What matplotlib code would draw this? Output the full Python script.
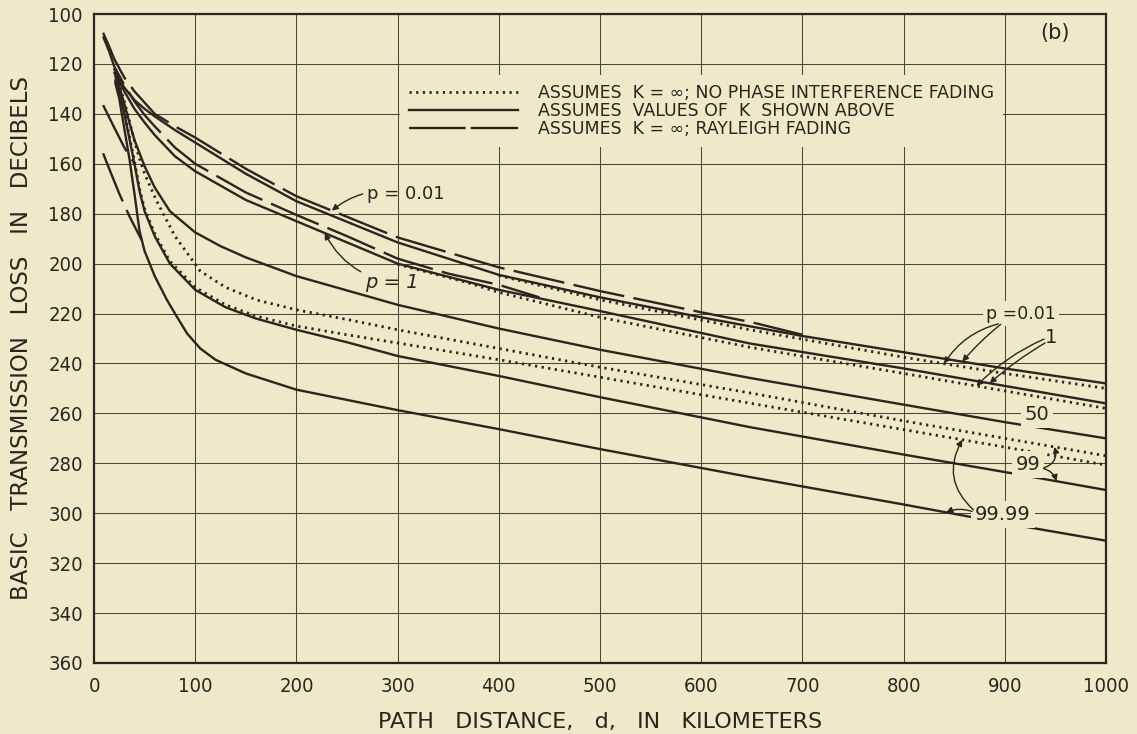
import numpy as np
import matplotlib
matplotlib.use("Agg")
import matplotlib.pyplot as plt
from matplotlib.lines import Line2D

BG = "#efe8c9"
INK = "#2b261d"
GRID = "#4d473b"

# Axis ticks
dist_ticks = list(range(0, 1001, 100))
loss_ticks = list(range(100, 361, 20))

# Solid: assumes values of K shown above
k001_d = [20, 25, 30, 40, 50, 60, 80, 100, 150, 200, 300, 400, 500, 600, 700, 800, 900, 1000]
k001_L = [122, 126, 129.5, 134.5, 138, 141, 146.5, 151.5, 164, 175, 191.5, 204.5, 213.5, 221.5, 229, 235.5, 242, 248]

k1_d = [20, 25, 30, 40, 50, 60, 80, 100, 150, 200, 250, 300, 400, 500, 648, 800, 900, 1000]
k1_L = [123.5, 127, 131, 138, 143.5, 148.5, 157, 163, 174.5, 183, 191.5, 200, 210.5, 219, 232, 242, 249, 256]

k50_d = [21, 25, 30, 35, 40, 50, 60, 75, 100, 125, 150, 200, 300, 400, 500, 648, 800, 900, 1000]
k50_L = [125, 129, 136, 143.5, 150.5, 161, 169.5, 179, 187.5, 193, 197.5, 205, 216.5, 226, 234.5, 245.8, 256.5, 263.5, 270]

k99_d = [21, 25, 30, 35, 40, 45, 50, 60, 75, 100, 130, 160, 200, 250, 300, 400, 500, 648, 800, 900, 1000]
k99_L = [126.5, 131, 140, 150, 160, 171, 179, 189, 200, 210.5, 217.5, 222, 226.5, 231.5, 237, 245, 253.5, 265.5, 276.5, 283.5, 290.7]

k9999_d = [21, 25, 30, 35, 40, 45, 50, 60, 72, 80, 92, 105, 120, 150, 200, 300, 400, 500, 648, 800, 900, 1000]
k9999_L = [127.5, 134, 146, 158, 172, 187, 195, 205, 214.5, 220, 228, 234, 238.5, 244, 250.5, 258.7, 266.3, 274.3, 285.5, 296.5, 304, 311]

# Dotted: K = infinity, no phase interference fading
nf001_d = [400, 500, 648, 800, 900, 1000]
nf001_L = [204.8, 214.5, 226.5, 237.5, 244, 250]

nf1_d = [300, 368, 400, 500, 648, 800, 900, 1000]
nf1_L = [200.3, 207.5, 211.5, 221.5, 233.5, 244, 251, 258]

nf99_d = [24, 30, 35, 40, 45, 50, 62, 80, 105, 130, 161, 200, 253, 300, 400, 500, 648, 800, 900, 1000]
nf99_L = [127, 135, 143, 151, 158, 164, 175, 189, 203, 209.5, 214.6, 218.5, 222.6, 226.5, 234, 241.5, 251.8, 263, 270, 277]

nf9999_d = [24, 30, 35, 40, 45, 50, 60, 75, 100, 130, 160, 200, 250, 300, 400, 500, 648, 800, 900, 1000]
nf9999_L = [128, 139, 149, 159, 170, 178, 188, 199, 209.5, 216.5, 221, 225, 228.5, 231.8, 238.5, 245.5, 255.9, 266.5, 273.5, 280.7]

# Dashed: K = infinity, Rayleigh fading
ry001_d = [9, 15, 20, 30, 40, 60, 80, 100, 150, 200, 300, 400, 500, 600, 650, 700]
ry001_L = [107.5, 113, 118, 125.5, 131, 140, 145, 149.5, 162, 173, 189.5, 201.5, 211, 219.5, 223.5, 228.5]

ry1_d = [9, 15, 20, 30, 40, 50, 60, 80, 100, 150, 200, 250, 300, 350, 400, 440]
ry1_L = [109, 115, 121, 128.5, 135, 140.5, 145, 153.5, 160, 171.5, 180.5, 189, 198, 204, 208.5, 213.5]

ry99_d = [9, 20, 30, 40]
ry99_L = [136.5, 145.5, 153.5, 160]

ry9999_d = [9, 15, 20, 25, 30, 35, 40, 47]
ry9999_L = [155.8, 162, 167, 172, 176.5, 181, 185, 190.5]

legend_labels = [
    "ASSUMES  K = \u221e; NO PHASE INTERFERENCE FADING",
    "ASSUMES  VALUES OF  K  SHOWN ABOVE",
    "ASSUMES  K = \u221e; RAYLEIGH FADING",
]

LW = 1.7
DOT = (0, (0.8, 1.6))
DASH = (0, (22, 4))

plt.rcParams["font.family"] = ["DejaVu Sans"]

fig = plt.figure(figsize=(11.37, 7.34), dpi=100, facecolor=BG)
ax = fig.add_axes([94 / 1137, 1 - 663 / 734, 1012 / 1137, 649 / 734])
ax.set_facecolor(BG)

ax.set_xlim(0, 1000)
ax.set_ylim(360, 100)
ax.set_xticks(dist_ticks)
ax.set_yticks(loss_ticks)
ax.set_xticklabels([str(t) for t in dist_ticks], fontsize=14.5, fontstretch="condensed", color=INK)
ax.set_yticklabels([str(t) for t in loss_ticks], fontsize=14.5, fontstretch="condensed", color=INK)
ax.tick_params(axis="x", length=0, pad=10, colors=INK)
ax.tick_params(axis="y", length=0, pad=8, colors=INK)
ax.grid(True, color=GRID, lw=0.75)
ax.set_axisbelow(True)
for s in ax.spines.values():
    s.set_color(INK)
    s.set_linewidth(1.6)

for d, L in [(k001_d, k001_L), (k1_d, k1_L), (k50_d, k50_L), (k99_d, k99_L), (k9999_d, k9999_L)]:
    ax.plot(d, L, color=INK, lw=LW, solid_capstyle="round", zorder=3)
for d, L in [(nf001_d, nf001_L), (nf1_d, nf1_L), (nf99_d, nf99_L), (nf9999_d, nf9999_L)]:
    ax.plot(d, L, color=INK, lw=LW + 0.3, linestyle=DOT, zorder=3)
for d, L in [(ry001_d, ry001_L), (ry1_d, ry1_L), (ry99_d, ry99_L), (ry9999_d, ry9999_L)]:
    ax.plot(d, L, color=INK, lw=LW, linestyle=DASH, zorder=3)

handles = [
    Line2D([], [], color=INK, lw=LW + 0.3, linestyle=DOT),
    Line2D([], [], color=INK, lw=LW),
    Line2D([], [], color=INK, lw=LW, linestyle=(0, (24, 2.1))),
]
leg = ax.legend(handles, legend_labels, loc="upper left", bbox_to_anchor=(0.3024, 0.906),
                fontsize=12.5, handlelength=6.3, handletextpad=1.15, labelspacing=0.02,
                borderpad=0.5, frameon=True, facecolor=BG, edgecolor="none",
                framealpha=1, fancybox=False, borderaxespad=0)
for t in leg.get_texts():
    t.set_color(INK)
leg.set_zorder(2.5)


def at(ds, Ls, d):
    return float(np.interp(d, ds, Ls))


box = dict(boxstyle="square,pad=0.2", fc=BG, ec="none")
arrow = dict(arrowstyle="-|>", color=INK, lw=1.0, mutation_scale=9, shrinkA=1, shrinkB=0)

ax.text(950, 107.5, "(b)", fontsize=15, ha="center", va="center", color=INK)

# left-hand labels
ax.annotate("p = 0.01", xy=(235, at(ry001_d, ry001_L, 235)), xytext=(308, 172),
            fontsize=13, ha="center", va="center", color=INK,
            arrowprops=dict(arrow, connectionstyle="arc3,rad=0.25"), zorder=5)
ax.annotate("p = 1", xy=(228, at(k1_d, k1_L, 228)), xytext=(294, 207.5),
            fontsize=14, style="italic", ha="center", va="center", color=INK,
            arrowprops=dict(arrow, connectionstyle="arc3,rad=-0.25"), zorder=5)

# right-hand labels
ax.text(916, 220, "p =0.01", fontsize=12.5, ha="center", va="center", color=INK, bbox=box, zorder=4)
ax.annotate("", xy=(840, at(nf001_d, nf001_L, 840)), xytext=(895, 224),
            arrowprops=dict(arrow, connectionstyle="arc3,rad=0.2"), zorder=5)
ax.annotate("", xy=(858, at(k001_d, k001_L, 858)), xytext=(897, 224),
            arrowprops=dict(arrow, connectionstyle="arc3,rad=0.05"), zorder=5)

ax.text(946, 229.5, "1", fontsize=14, ha="center", va="center", color=INK, zorder=4)
ax.annotate("", xy=(872, at(nf1_d, nf1_L, 872)), xytext=(940, 230),
            arrowprops=dict(arrow, connectionstyle="arc3,rad=0.1"), zorder=5)
ax.annotate("", xy=(885, at(k1_d, k1_L, 885)), xytext=(941, 231.5),
            arrowprops=dict(arrow, connectionstyle="arc3,rad=0.05"), zorder=5)

ax.text(932, 260.5, "50", fontsize=14, ha="center", va="center", color=INK, bbox=box, zorder=4)

ax.text(923, 280.5, "99", fontsize=14, ha="center", va="center", color=INK, bbox=box, zorder=4)
ax.annotate("", xy=(949, at(nf99_d, nf99_L, 949)), xytext=(937, 282),
            arrowprops=dict(arrow, connectionstyle="arc3,rad=0.5"), zorder=5)
ax.annotate("", xy=(951, at(k99_d, k99_L, 951)), xytext=(937, 282),
            arrowprops=dict(arrow, connectionstyle="arc3,rad=-0.3"), zorder=5)

ax.text(898, 300.5, "99.99", fontsize=14, ha="center", va="center", color=INK, bbox=box, zorder=4)
ax.annotate("", xy=(842, at(k9999_d, k9999_L, 842)), xytext=(869, 299.5),
            arrowprops=dict(arrow, connectionstyle="arc3,rad=0.2"), zorder=5)
ax.annotate("", xy=(858, at(nf9999_d, nf9999_L, 858)), xytext=(870, 299),
            arrowprops=dict(arrow, connectionstyle="arc3,rad=-0.4"), zorder=5)

ax.set_xlabel("PATH   DISTANCE,   d,   IN   KILOMETERS", fontsize=16, color=INK, va="top")
ax.xaxis.set_label_coords(0.5, -0.0755)
ax.set_ylabel("BASIC   TRANSMISSION   LOSS   IN   DECIBELS", fontsize=16.5, color=INK)
ax.yaxis.set_label_coords(-0.0605, 0.5)

fig.savefig("out.png", dpi=100, facecolor=BG)
